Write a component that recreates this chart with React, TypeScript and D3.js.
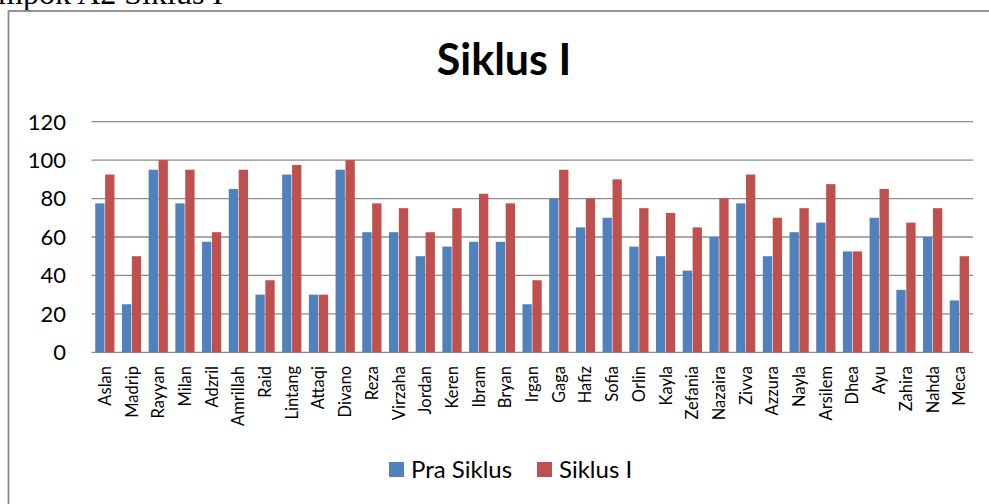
import React from 'react';
import * as d3 from 'd3';

const names = ['Aslan', 'Madrip', 'Rayyan', 'Milan', 'Adzril', 'Amrillah', 'Raid', 'Lintang', 'Attaqi', 'Divano',
    'Reza', 'Virzaha', 'Jordan', 'Keren', 'Ibram', 'Bryan', 'Irgan', 'Gaga', 'Hafiz', 'Sofia',
    'Orlin', 'Kayla', 'Zefania', 'Nazaira', 'Zivva', 'Azzura', 'Nayla', 'Arsilem', 'Dhea', 'Ayu',
    'Zahira', 'Nahda', 'Meca'];
const praSiklus = [77.5, 25, 95, 77.5, 57.5, 85, 30, 92.5, 30, 95,
    62.5, 62.5, 50, 55, 57.5, 57.5, 25, 80, 65, 70,
    55, 50, 42.5, 60, 77.5, 50, 62.5, 67.5, 52.5, 70,
    32.5, 60, 27];
const siklus1 = [92.5, 50, 100, 95, 62.5, 95, 37.5, 97.5, 30, 100,
    77.5, 75, 62.5, 75, 82.5, 77.5, 37.5, 95, 80, 90,
    75, 72.5, 65, 80, 92.5, 70, 75, 87.5, 52.5, 85,
    67.5, 75, 50];
const seriesNames = ['Pra Siklus', 'Siklus I'];
const seriesColors = ['#4F81BD', '#C0504D'];
const yTicks = [0, 20, 40, 60, 80, 100, 120];

const font = 'Lato, "Open Sans", sans-serif';

const App = () => {
    const width = 989;
    const height = 504;

    const yScale = d3.scaleLinear()
        .domain([0, 120])
        .range([352.3, 121.7]);

    const xScale = d3.scaleBand()
        .domain(names)
        .range([91.5, 972.7])
        .paddingInner(0.28)
        .paddingOuter(0.14);

    const inner = d3.scaleBand()
        .domain(seriesNames)
        .range([0, xScale.bandwidth()])
        .paddingInner(0.06);

    const series = [praSiklus, siklus1];

    return (
        <div style={{ position: 'fixed', left: 0, top: 0, width, height, background: '#fff' }}>
            <svg width={width} height={height} style={{ display: 'block' }}>
                {/* caption of the document, cut off at the top like in the source */}
                <text x={223} y={4} textAnchor="end" fontFamily='"Liberation Serif", serif' fontSize={32}>Kelompok A2 Siklus I</text>
                <rect x={8.5} y={11} width={1000} height={520} fill="#fff" stroke="#8a8a8a" strokeWidth={1.8} />
                <text x={504} y={75} textAnchor="middle" fontFamily={font} fontWeight="bold" fontSize={43}>Siklus I</text>

                <g className="grid">
                    {yTicks.map(t => (
                        <line key={t} x1={91.5} x2={973} y1={yScale(t)} y2={yScale(t)} stroke="#8c8c8c" strokeWidth={1.3} />
                    ))}
                </g>
                <g className="ytick">
                    {yTicks.map(t => (
                        <text key={t} x={66} y={yScale(t)} dy="0.36em" textAnchor="end" fontFamily={font} fontSize={22}>{t}</text>
                    ))}
                </g>

                <g className="bars">
                    {names.map((n, i) => (
                        <g key={n} transform={`translate(${xScale(n)},0)`}>
                            {series.map((s, j) => (
                                <rect key={j}
                                    x={inner(seriesNames[j])}
                                    y={yScale(s[i])}
                                    width={inner.bandwidth()}
                                    height={yScale(0) - yScale(s[i])}
                                    fill={seriesColors[j]} />
                            ))}
                        </g>
                    ))}
                </g>

                <g className="xtick">
                    {names.map(n => (
                        <text key={n}
                            transform={`translate(${xScale(n) + xScale.bandwidth() / 2},366) rotate(-90)`}
                            dy="0.36em" textAnchor="end" fontFamily={font} fontSize={16.5}>{n}</text>
                    ))}
                </g>

                <g className="legend">
                    {seriesNames.map((s, j) => {
                        const lx = j === 0 ? 389 : 537;
                        return (
                            <g key={s}>
                                <rect x={lx} y={462} width={15} height={15} fill={seriesColors[j]} />
                                <text x={lx + 22} y={469.5} dy="0.36em" fontFamily={font} fontSize={24}>{s}</text>
                            </g>
                        );
                    })}
                </g>
            </svg>
        </div>
    );
};

export default App;
